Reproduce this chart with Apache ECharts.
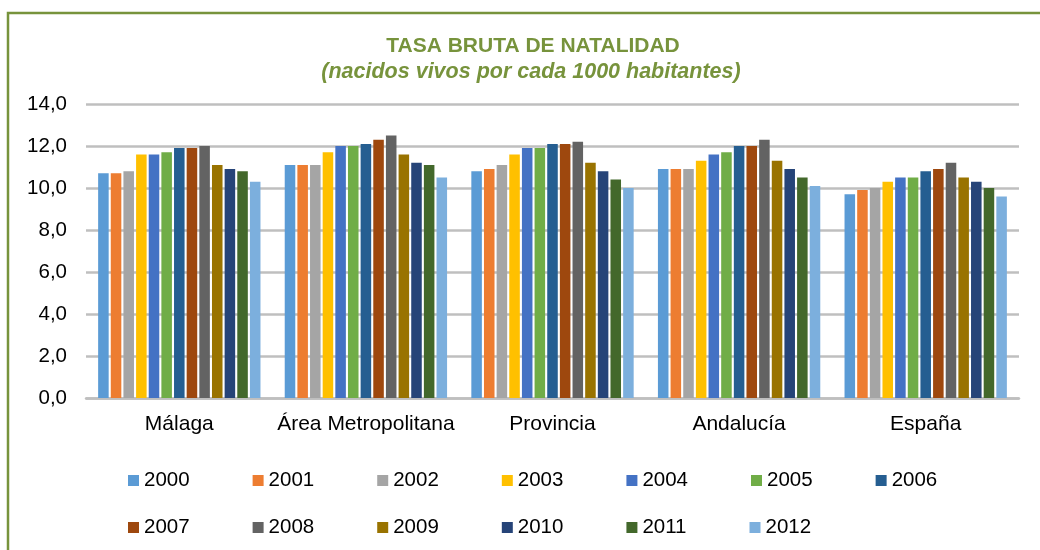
<!DOCTYPE html>
<html>
<head>
<meta charset="utf-8">
<script src="https://cdn.jsdelivr.net/npm/echarts@6/dist/echarts.min.js"></script>
<style>
html,body{margin:0;padding:0;background:#fff;}
#chart{width:1040px;height:550px;}
</style>
</head>
<body>
<div id="chart"></div>
<script>
const categories = ['Málaga', 'Área Metropolitana', 'Provincia', 'Andalucía', 'España'];
const years = ['2000','2001','2002','2003','2004','2005','2006','2007','2008','2009','2010','2011','2012'];
const colors = ['#5B9BD5','#ED7D31','#A5A5A5','#FFC000','#4472C4','#70AD47','#255E91','#9E480E','#636363','#997300','#264478','#43682B','#7CAFDD'];
// values per year: [Málaga, Área Metropolitana, Provincia, Andalucía, España]
const v2000 = [10.7, 11.1, 10.8, 10.9, 9.7];
const v2001 = [10.7, 11.1, 10.9, 10.9, 9.9];
const v2002 = [10.8, 11.1, 11.1, 10.9, 10.0];
const v2003 = [11.6, 11.7, 11.6, 11.3, 10.3];
const v2004 = [11.6, 12.0, 11.9, 11.6, 10.5];
const v2005 = [11.7, 12.0, 11.9, 11.7, 10.5];
const v2006 = [11.9, 12.1, 12.1, 12.0, 10.8];
const v2007 = [11.9, 12.3, 12.1, 12.0, 10.9];
const v2008 = [12.0, 12.5, 12.2, 12.3, 11.2];
const v2009 = [11.1, 11.6, 11.2, 11.3, 10.5];
const v2010 = [10.9, 11.2, 10.8, 10.9, 10.3];
const v2011 = [10.8, 11.1, 10.4, 10.5, 10.0];
const v2012 = [10.3, 10.5, 10.0, 10.1, 9.6];
const values = [v2000,v2001,v2002,v2003,v2004,v2005,v2006,v2007,v2008,v2009,v2010,v2011,v2012];
const yTicks = [0, 2, 4, 6, 8, 10, 12, 14];

const green = '#77933C';
const font = 'Liberation Sans, Arial, sans-serif';

const chart = echarts.init(document.getElementById('chart'), null, {renderer: 'canvas'});
const series = years.map((y, i) => ({
  name: y,
  type: 'bar',
  data: values[i],
  barGap: '20%',
  barCategoryGap: '13%',
  itemStyle: {color: colors[i]}
}));

const legendCommon = {
  orient: 'horizontal',
  padding: 0,
  itemWidth: 11,
  itemHeight: 11,
  itemGap: 63,
  icon: 'rect',
  selectedMode: false,
  textStyle: {fontFamily: font, fontSize: 20.5, color: '#000'}
};

chart.setOption({
  animation: false,
  textStyle: {fontFamily: font},
  title: [
    {text: 'TASA BRUTA DE NATALIDAD', left: 528, top: 31, textAlign: 'center',
     textStyle: {fontFamily: font, fontSize: 21, fontWeight: 'bold', color: green}},
    {text: '(nacidos vivos por cada 1000 habitantes)', left: 526, top: 56, textAlign: 'center',
     textStyle: {fontFamily: font, fontSize: 21.5, fontWeight: 'bold', fontStyle: 'italic', color: green}}
  ],
  graphic: [{
    type: 'rect', shape: {x: 8, y: 13, width: 1100, height: 600},
    style: {fill: 'none', stroke: green, lineWidth: 2.5}, silent: true, z: 100
  }],
  legend: [
    Object.assign({data: years.slice(0, 7), left: 128, top: 470}, legendCommon),
    Object.assign({data: years.slice(7), left: 128, top: 517}, legendCommon)
  ],
  grid: {left: 86, right: 21, top: 104, bottom: 152, containLabel: false},
  xAxis: {
    type: 'category',
    data: categories,
    axisLine: {show: true, lineStyle: {color: '#BFBFBF', width: 2.5}},
    axisTick: {show: false},
    axisLabel: {fontFamily: font, fontSize: 21, color: '#000', margin: 16, interval: 0}
  },
  yAxis: {
    type: 'value',
    min: yTicks[0],
    max: yTicks[yTicks.length - 1],
    interval: 2,
    axisLine: {show: false},
    axisTick: {show: false},
    splitLine: {lineStyle: {color: '#BFBFBF', width: 2.5}},
    axisLabel: {fontFamily: font, fontSize: 20.5, color: '#000', margin: 19,
      formatter: v => v.toFixed(1).replace('.', ',')}
  },
  series: series
});
</script>
</body>
</html>
